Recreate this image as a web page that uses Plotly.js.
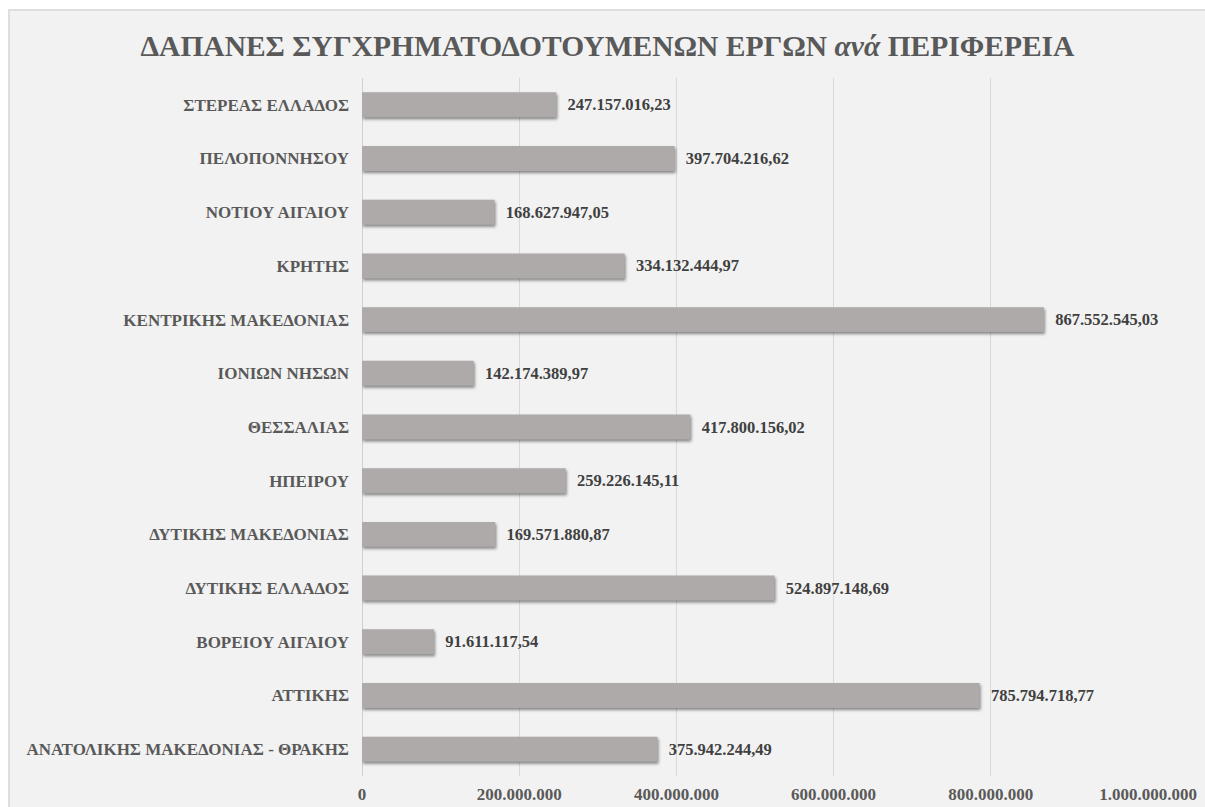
<!DOCTYPE html>
<html>
<head>
<meta charset="utf-8">
<script src="https://cdn.plot.ly/plotly-3.0.1.min.js"></script>
<style>
  html, body { margin: 0; padding: 0; background: #ffffff; width: 1205px; height: 807px; overflow: hidden; }
  #frame { position: absolute; left: 8px; top: 9px; width: 1197px; height: 798px; border-top: 2px solid #dedede; border-left: 2px solid #dedede; background: #f2f2f2; box-sizing: border-box; }
  #chart { position: absolute; left: 0; top: 0; width: 1195px; height: 796px; }
  .trace.bars .point path { filter: drop-shadow(1.5px 2.5px 1.5px rgba(0,0,0,0.45)); }
</style>
</head>
<body>
<div id="frame"><div id="chart"></div></div>
<script>
const regions = [
  "ΑΝΑΤΟΛΙΚΗΣ ΜΑΚΕΔΟΝΙΑΣ - ΘΡΑΚΗΣ",
  "ΑΤΤΙΚΗΣ",
  "ΒΟΡΕΙΟΥ ΑΙΓΑΙΟΥ",
  "ΔΥΤΙΚΗΣ ΕΛΛΑΔΟΣ",
  "ΔΥΤΙΚΗΣ ΜΑΚΕΔΟΝΙΑΣ",
  "ΗΠΕΙΡΟΥ",
  "ΘΕΣΣΑΛΙΑΣ",
  "ΙΟΝΙΩΝ ΝΗΣΩΝ",
  "ΚΕΝΤΡΙΚΗΣ ΜΑΚΕΔΟΝΙΑΣ",
  "ΚΡΗΤΗΣ",
  "ΝΟΤΙΟΥ ΑΙΓΑΙΟΥ",
  "ΠΕΛΟΠΟΝΝΗΣΟΥ",
  "ΣΤΕΡΕΑΣ ΕΛΛΑΔΟΣ"
];
const spending = [
  375942244.49,
  785794718.77,
  91611117.54,
  524897148.69,
  169571880.87,
  259226145.11,
  417800156.02,
  142174389.97,
  867552545.03,
  334132444.97,
  168627947.05,
  397704216.62,
  247157016.23
];
const xTicks = [0, 200000000, 400000000, 600000000, 800000000, 1000000000];

const serif = '"Liberation Serif", "Times New Roman", "DejaVu Serif", serif';

const trace = {
  type: 'bar',
  orientation: 'h',
  y: regions,
  x: spending,
  marker: { color: '#aeaaaa', line: { width: 0 } },
  texttemplate: '\u00a0\u00a0%{x:,.2f}',
  textposition: 'outside',
  cliponaxis: false,
  textfont: { family: serif, size: 16.5, color: '#404040', weight: 'bold' },
  hoverinfo: 'skip'
};

const layout = {
  width: 1195,
  height: 796,
  paper_bgcolor: '#f2f2f2',
  plot_bgcolor: '#f2f2f2',
  separators: ',.',
  margin: { l: 352, r: 57, t: 67, b: 31, pad: 0 },
  bargap: 0.535,
  showlegend: false,
  title: {
    text: '<b>ΔΑΠΑΝΕΣ ΣΥΓΧΡΗΜΑΤΟΔΟΤΟΥΜΕΝΩΝ ΕΡΓΩΝ <i>ανά</i> ΠΕΡΙΦΕΡΕΙΑ</b>',
    x: 0.5, xanchor: 'center',
    y: 0.957, yanchor: 'middle',
    font: { family: serif, size: 29.5, color: '#595959' }
  },
  xaxis: {
    range: [0, 1000000000],
    tickvals: xTicks,
    tickformat: ',d',
    showgrid: true,
    gridcolor: '#d9d9d9',
    gridwidth: 1,
    zeroline: false,
    showline: false,
    ticks: '',
    ticklabelstandoff: 6,
    tickfont: { family: serif, size: 17, color: '#595959', weight: 'bold' },
    fixedrange: true
  },
  yaxis: {
    type: 'category',
    showgrid: false,
    zeroline: false,
    showline: false,
    ticks: '',
    ticklabelstandoff: 12,
    tickfont: { family: serif, size: 17, color: '#595959', weight: 'bold' },
    fixedrange: true
  },
  shapes: [{
    type: 'line', xref: 'x', yref: 'paper',
    x0: 0, x1: 0, y0: 0, y1: 1,
    line: { color: '#d0d0d0', width: 2 },
    layer: 'below'
  }]
};

Plotly.newPlot('chart', [trace], layout, { displayModeBar: false, staticPlot: true });
</script>
</body>
</html>
